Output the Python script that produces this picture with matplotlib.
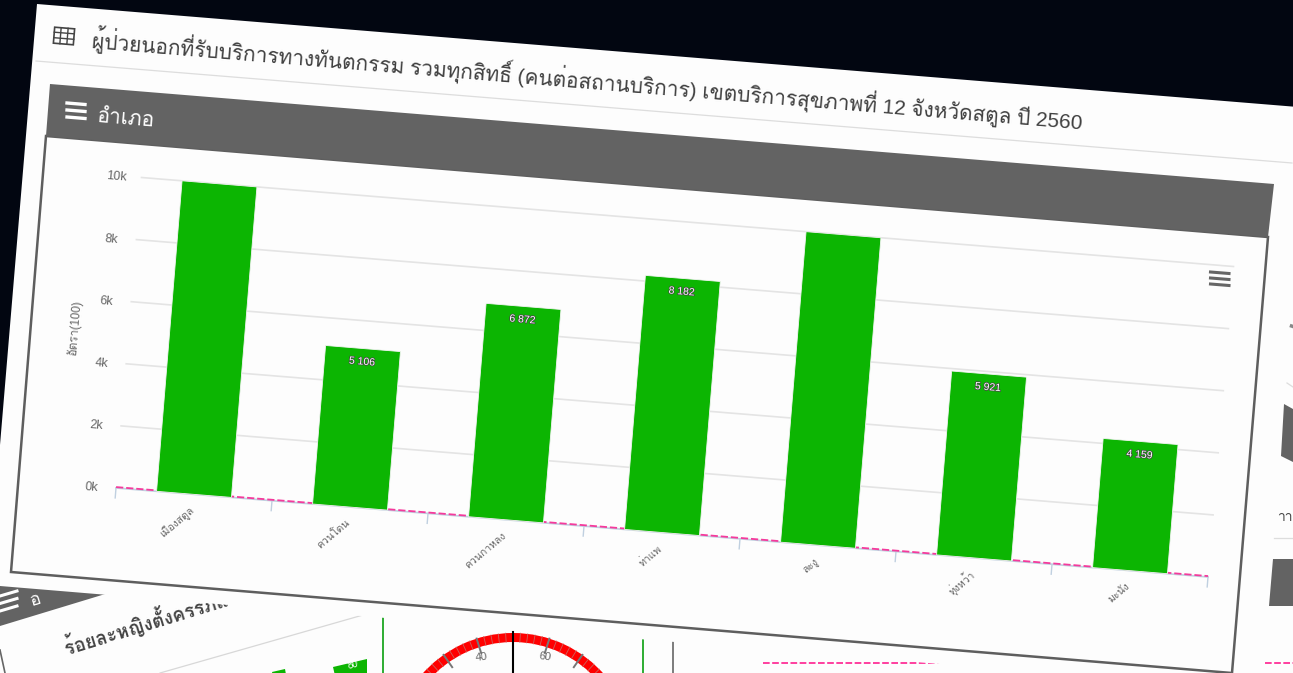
import numpy as np
import matplotlib
matplotlib.use('Agg')
import matplotlib.pyplot as plt
import matplotlib.patheffects as pe
from matplotlib.patches import Polygon, Wedge
from matplotlib.transforms import Affine2D

# ========== data ==========
districts = ['เมืองสตูล', 'ควนโดน', 'ควนกาหลง', 'ท่าแพ', 'ละงู', 'ทุ่งหว้า', 'มะนัง']
values = [10000, 5106, 6872, 8182, 10000, 5921, 4159]
value_labels = ['', '5 106', '6 872', '8 182', '', '5 921', '4 159']
y_ticks = [0, 2000, 4000, 6000, 8000, 10000]
y_tick_labels = ['0k', '2k', '4k', '6k', '8k', '10k']
gauge_major = [30, 40, 50, 60, 70]
gauge_labels = {40: '40', 60: '60'}

title = 'ผู้ป่วยนอกที่รับบริการทางทันตกรรม รวมทุกสิทธิ์ (คนต่อสถานบริการ) เขตบริการสุขภาพที่ 12 จังหวัดสตูล ปี 2560'
panel_title = 'อำเภอ'
y_title = 'อัตรา(100)'
other_title = 'ร้อยละหญิงตั้งครรภ์แ'

plt.rcParams['font.family'] = ['Liberation Sans', 'Loma', 'Noto Sans Thai Looped', 'DejaVu Sans']

ANGLE = -4.7
DARK = '#020611'
PAPER = '#fdfdfd'
HEADER = '#636363'
GREEN = '#0cb502'
PINK = '#f43a9c'

fig = plt.figure(figsize=(12.93, 6.73), dpi=100, facecolor=DARK)
ax = fig.add_axes([0, 0, 1, 1])
ax.set_xlim(0, 1293)
ax.set_ylim(673, 0)
ax.axis('off')
ax.set_facecolor(DARK)

# category / value -> picture pixels, the chart is a tilted screenshot
to_pixels = Affine2D.from_values(1092 / 7, 89 / 7, 25.5 / 10000, -310.5 / 10000,
                                 116 + 546 / 7, 488 + 44.5 / 7) + ax.transData

# ========== panels behind the main card ==========
ax.add_patch(Polygon([(0, 520), (1293, 300), (1293, 673), (0, 673)], fc=PAPER, ec='none', zorder=0.5))
ax.add_patch(Polygon([(0, 580), (125, 588), (0, 626)], fc=HEADER, ec='none', zorder=1))
for k in range(3):
    ax.plot([0, 17], [596 + k * 7.5, 591 + k * 7.5], color='white', lw=2.2, zorder=1.2)
ax.text(36, 600, 'อ', color='white', fontsize=13, rotation=17, ha='center', va='center', zorder=1.2)
ax.text(67, 655, other_title, color='#444444', fontsize=13.5, rotation=17, rotation_mode='anchor',
        ha='left', va='baseline', fontweight='bold', zorder=1.2)
ax.plot([160, 363], [673, 615], color='#d8d8d8', lw=0.9, zorder=1)
ax.add_patch(Polygon([(272, 672), (285, 669), (287, 680), (274, 680)], fc=GREEN, ec='none', zorder=1))
ax.add_patch(Polygon([(333, 667), (367, 659), (367, 680), (336, 680)], fc=GREEN, ec='none', zorder=1))
ax.text(353, 665, '80', color='white', fontsize=7, rotation=15, ha='center', va='center', zorder=1.2)
ax.plot([0, 5], [650, 673], color='#666666', lw=1.2, zorder=1)

# gauge and the neighbours of it
ax.plot([383, 383], [600, 673], color='#0a9f10', lw=1.2, zorder=1)
ax.plot([643, 643], [600, 673], color='#0a9f10', lw=1.2, zorder=1)
ax.plot([673, 673], [600, 673], color='#666666', lw=1.2, zorder=1)
ax.plot([763, 960], [663, 663], color='#ff1f8f', lw=1.2, ls=(0, (4, 1.5)), zorder=1)
gx, gy, gr = 513, 754, 121
ax.add_patch(Wedge((gx, gy), gr, 220, 320, width=9, fc='#ff0000', ec='none', zorder=1))
for t in range(24, 78, 2):
    a = np.deg2rad((t - 50) * 1.75)
    r0 = gr - 9
    ax.plot([gx + r0 * np.sin(a), gx + gr * np.sin(a)], [gy - r0 * np.cos(a), gy - gr * np.cos(a)],
            color='#c9665f', lw=0.6, zorder=1.1)
for t in gauge_major:
    a = np.deg2rad((t - 50) * 1.75)
    r0 = gr - 15
    ax.plot([gx + r0 * np.sin(a), gx + gr * np.sin(a)], [gy - r0 * np.cos(a), gy - gr * np.cos(a)],
            color='#777777', lw=1.4, zorder=1.2)
    if t in gauge_labels:
        a2 = np.deg2rad((t - 50) * 1.83)
        ax.text(gx + (gr - 19) * np.sin(a2), gy - (gr - 19) * np.cos(a2), gauge_labels[t], color='#666666',
                fontsize=8, rotation=-(t - 50) * 0.7, ha='center', va='center', zorder=1.2)
ax.plot([513, 513], [632, 673], color='black', lw=1.5, zorder=1.3)

# ========== main card ==========
ax.add_patch(Polygon([(37, 4), (1310, 108), (1265, 691), (0, 586), (0, 445)], fc=PAPER, ec='none', zorder=2))
ax.plot([36, 1292], [61, 163], color='#dddddd', lw=0.9, zorder=2.1)

# table icon
icon_tr = Affine2D().rotate_deg(4.7).translate(64, 36) + ax.transData
ax.add_patch(Polygon([(-10, -8), (10, -8), (10, 8), (-10, 8)], fc='none', ec='#444444', lw=1.2,
                     transform=icon_tr, zorder=2.2))
ax.plot([-10, 10], [-3, -3], color='#444444', lw=1, transform=icon_tr, zorder=2.2)
ax.plot([-10, 10], [2.5, 2.5], color='#444444', lw=1, transform=icon_tr, zorder=2.2)
ax.plot([-3.5, -3.5], [-8, 8], color='#444444', lw=1, transform=icon_tr, zorder=2.2)
ax.plot([3.5, 3.5], [-8, 8], color='#444444', lw=1, transform=icon_tr, zorder=2.2)

ax.text(91, 49, title, color='#404040', fontsize=15.06, rotation=ANGLE, rotation_mode='anchor',
        ha='left', va='baseline', zorder=2.2)

# panel frame and header
ax.add_patch(Polygon([(46, 136), (11, 572), (1232, 673), (1268, 237)], fc=PAPER, ec='#5e5e5e', lw=1.8, zorder=2.2))
ax.add_patch(Polygon([(50, 84), (1274, 184), (1268, 237), (46, 136)], fc=HEADER, ec='none', zorder=2.3))
for k in range(3):
    ax.plot([67, 85], [103 + k * 7, 104.5 + k * 7], color='white', lw=2.4, zorder=2.4)
ax.text(96, 122, panel_title, color='white', fontsize=15, rotation=ANGLE, rotation_mode='anchor',
        ha='left', va='baseline', zorder=2.4)

# context menu icon
for k in range(3):
    ax.plot([1210.5, 1229], [272 + k * 6, 273.5 + k * 6], color='#666666', lw=2.2, zorder=3)

# ========== chart ==========
for v in y_ticks[1:]:
    ax.plot([-0.5, 6.5], [v, v], color='#e4e4e4', lw=1.2, transform=to_pixels, zorder=3)
ax.plot([-0.5, 6.5], [0, 0], color='#c0d0e0', lw=1.2, transform=to_pixels, zorder=3)
ax.plot([-0.5, 6.5], [30, 30], color=PINK, lw=1.3, ls=(0, (4, 1.6)), transform=to_pixels, zorder=3.1)
for b in np.arange(-0.5, 7):
    ax.plot([b, b], [0, -320], color='#c0d0e0', lw=1, transform=to_pixels, zorder=3)

ax.bar(np.arange(len(values)), values, width=0.48, color=GREEN, edgecolor='#f4f4f4', linewidth=0.6,
       transform=to_pixels, zorder=4)

for v, lab in zip(y_ticks, y_tick_labels):
    ax.text(-0.66, v - 50, lab, color='#666666', fontsize=9, rotation=ANGLE, ha='center', va='center',
            transform=to_pixels, zorder=4)
for i, name in enumerate(districts):
    ax.text(i + 0.0, -470, name, color='#666666', fontsize=7.5, rotation=40, rotation_mode='anchor',
            ha='right', va='center', transform=to_pixels, zorder=4)
for i, lab in enumerate(value_labels):
    if lab:
        ax.text(i, values[i] - 420, lab, color='white', fontsize=7.5, rotation=ANGLE, ha='center', va='center',
                transform=to_pixels, zorder=5,
                path_effects=[pe.withStroke(linewidth=1, foreground='#444444')])
ax.text(75, 328, y_title, color='#666666', fontsize=8.5, rotation=90 + ANGLE, ha='center', va='center', zorder=4)

# ========== panels right of the card ==========
ax.add_patch(Polygon([(1284, 404), (1293, 409), (1293, 462), (1281, 456)], fc=HEADER, ec='none', zorder=2.5))
ax.plot([1287, 1293], [383, 387], color='#dddddd', lw=0.9, zorder=2.5)
ax.plot([1291.5, 1293], [326, 326.5], color='#888888', lw=2.5, zorder=2.5)
ax.add_patch(Polygon([(1273, 559), (1293, 559), (1293, 606), (1269, 606)], fc=HEADER, ec='none', zorder=2.5))
ax.plot([1274, 1293], [538, 538], color='#dddddd', lw=0.9, zorder=2.5)
ax.plot([1265, 1293], [663, 663], color='#ff1f8f', lw=1.2, ls=(0, (4, 1.5)), zorder=2.5)
ax.text(1277, 517, 'าา', color='#444444', fontsize=10, ha='left', va='center', zorder=2.5)

fig.savefig('out.png', dpi=100, facecolor=DARK)
